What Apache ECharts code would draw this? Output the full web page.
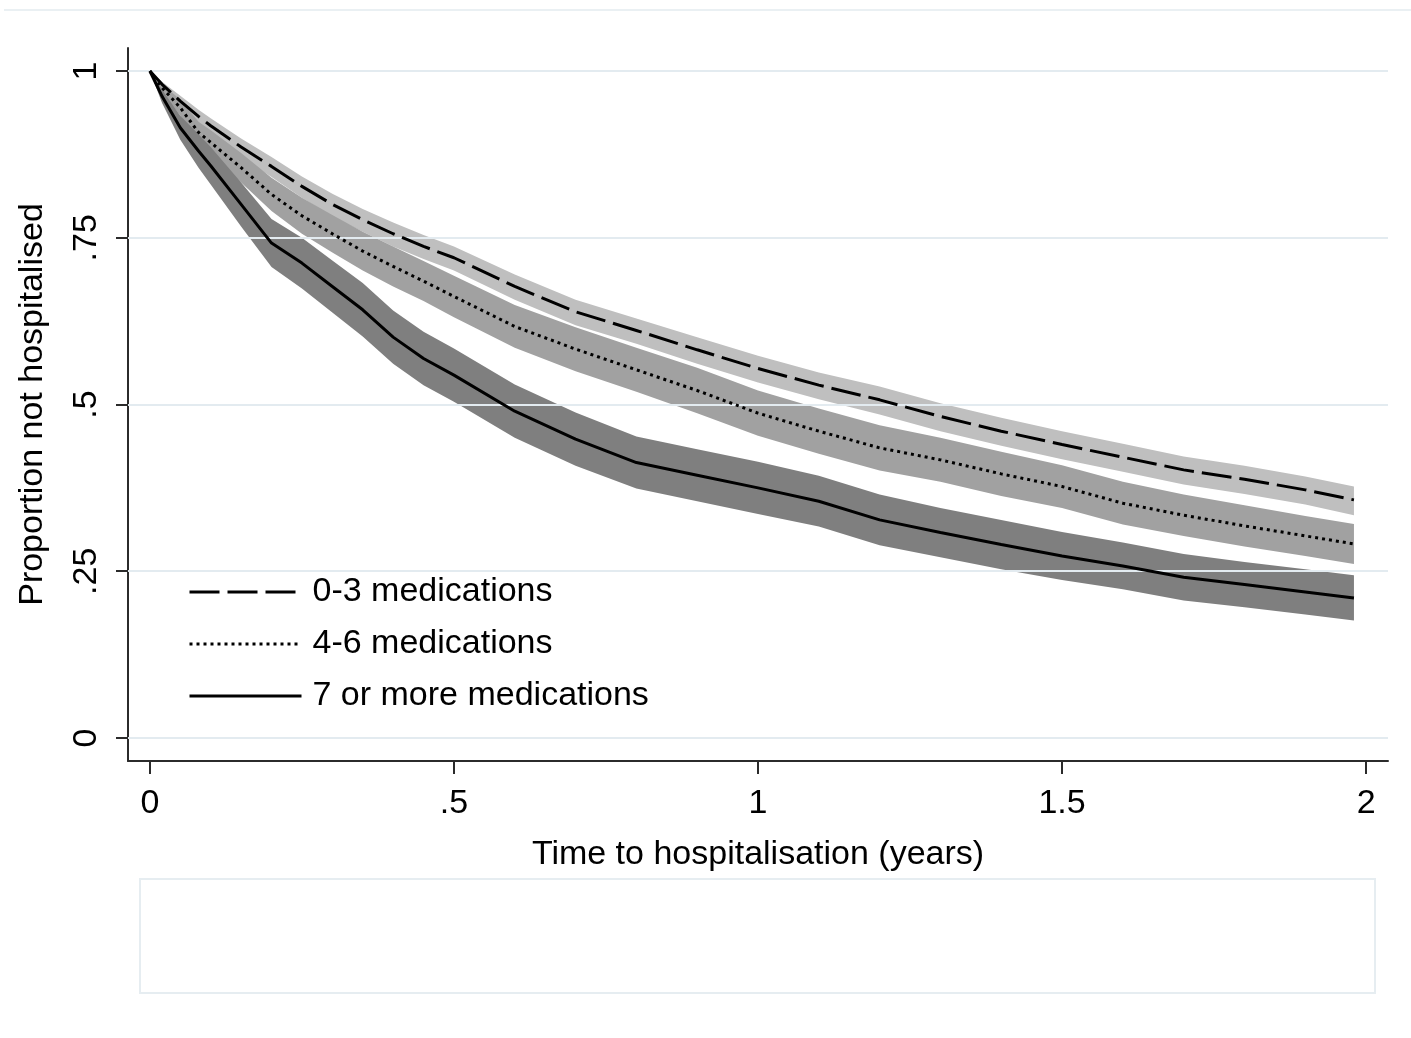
<!DOCTYPE html>
<html>
<head>
<meta charset="utf-8">
<script src="https://cdn.jsdelivr.net/npm/echarts@6/dist/echarts.min.js"></script>
<style>
html,body{margin:0;padding:0;background:#fff;}
#chart{width:1411px;height:1038px;}
</style>
</head>
<body>
<div id="chart"></div>
<script>
// ---- data ----
var seriesNames = ['0-3 medications', '4-6 medications', '7 or more medications'];
var t = [0, 0.02, 0.05, 0.08, 0.1, 0.15, 0.2, 0.25, 0.3, 0.35, 0.4, 0.45, 0.5, 0.6, 0.7, 0.8, 0.9, 1.0, 1.1, 1.2, 1.3, 1.4, 1.5, 1.6, 1.7, 1.8, 1.9, 1.98];

var s03  = [1.0, 0.980, 0.955, 0.932, 0.918, 0.886, 0.857, 0.827, 0.800, 0.777, 0.756, 0.737, 0.720, 0.677, 0.639, 0.611, 0.582, 0.554, 0.529, 0.507, 0.482, 0.460, 0.440, 0.421, 0.402, 0.388, 0.372, 0.357];
var hi03 = [1.0, 0.984, 0.963, 0.942, 0.929, 0.899, 0.871, 0.842, 0.816, 0.793, 0.773, 0.754, 0.737, 0.695, 0.657, 0.629, 0.601, 0.573, 0.548, 0.527, 0.502, 0.480, 0.460, 0.441, 0.422, 0.408, 0.392, 0.377];
var lo03 = [1.0, 0.975, 0.946, 0.920, 0.905, 0.871, 0.841, 0.810, 0.782, 0.759, 0.737, 0.718, 0.701, 0.657, 0.619, 0.591, 0.561, 0.533, 0.508, 0.485, 0.460, 0.438, 0.418, 0.399, 0.380, 0.366, 0.350, 0.334];

var s46  = [1.0, 0.975, 0.945, 0.908, 0.893, 0.855, 0.815, 0.783, 0.756, 0.730, 0.707, 0.685, 0.662, 0.617, 0.583, 0.552, 0.521, 0.487, 0.460, 0.435, 0.417, 0.396, 0.377, 0.352, 0.334, 0.318, 0.303, 0.291];
var hi46 = [1.0, 0.981, 0.957, 0.924, 0.911, 0.877, 0.840, 0.810, 0.784, 0.759, 0.737, 0.715, 0.693, 0.649, 0.616, 0.585, 0.555, 0.521, 0.494, 0.469, 0.450, 0.429, 0.409, 0.384, 0.365, 0.349, 0.333, 0.321];
var lo46 = [1.0, 0.969, 0.933, 0.892, 0.875, 0.833, 0.790, 0.756, 0.728, 0.701, 0.677, 0.655, 0.631, 0.585, 0.550, 0.519, 0.487, 0.453, 0.426, 0.401, 0.384, 0.363, 0.345, 0.320, 0.303, 0.287, 0.273, 0.261];

var s7   = [1.0, 0.962, 0.915, 0.880, 0.858, 0.800, 0.742, 0.712, 0.677, 0.642, 0.601, 0.569, 0.544, 0.490, 0.448, 0.413, 0.394, 0.375, 0.355, 0.327, 0.308, 0.290, 0.273, 0.258, 0.241, 0.230, 0.219, 0.210];
var hi7  = [1.0, 0.972, 0.933, 0.905, 0.886, 0.833, 0.778, 0.750, 0.716, 0.682, 0.641, 0.609, 0.584, 0.530, 0.488, 0.452, 0.433, 0.414, 0.393, 0.365, 0.345, 0.327, 0.309, 0.293, 0.276, 0.264, 0.253, 0.244];
var lo7  = [1.0, 0.952, 0.897, 0.855, 0.830, 0.767, 0.706, 0.674, 0.638, 0.602, 0.561, 0.529, 0.504, 0.450, 0.408, 0.374, 0.355, 0.336, 0.317, 0.289, 0.271, 0.253, 0.237, 0.223, 0.206, 0.196, 0.185, 0.176];

var xTickValues = [0, 0.5, 1, 1.5, 2];
var xTickLabels = ['0', '.5', '1', '1.5', '2'];
var yTickValues = [0, 0.25, 0.5, 0.75, 1];
var yTickLabels = ['0', '.25', '.5', '.75', '1'];

var xTitle = 'Time to hospitalisation (years)';
var yTitle = 'Proportion not hospitalised';

// ---- chart ----
var FONT = '"Liberation Sans", Arial, Helvetica, sans-serif';
var AXIS_COLOR = '#2b2b2b';
var GRID_COLOR = '#e3ebf0';

function pairs(xs, ys) { return xs.map(function (x, i) { return [x, ys[i]]; }); }
function lookup(vals, labels) {
  return function (v) {
    for (var i = 0; i < vals.length; i++) if (Math.abs(vals[i] - v) < 1e-9) return labels[i];
    return '';
  };
}
function band(name, lo, hi, color) {
  return {
    type: 'custom',
    name: name + ' CI',
    z: 2,
    silent: true,
    data: t.map(function (x, i) { return [x, hi[i], lo[i]]; }),
    encode: { x: 0, y: [1, 2] },
    renderItem: function (params, api) {
      if (params.dataIndex !== 0) return null;
      var pts = [];
      for (var i = 0; i < t.length; i++) pts.push(api.coord([t[i], hi[i]]));
      for (var j = t.length - 1; j >= 0; j--) pts.push(api.coord([t[j], lo[j]]));
      return { type: 'polygon', shape: { points: pts }, style: { fill: color, stroke: null } };
    }
  };
}
function line(name, ys, type) {
  return {
    type: 'line',
    name: name,
    z: 5,
    data: pairs(t, ys),
    showSymbol: false,
    symbol: 'none',
    smooth: false,
    silent: true,
    lineStyle: { color: '#000', width: 3, type: type, cap: 'butt' },
    itemStyle: { color: '#000' }
  };
}

var chart = echarts.init(document.getElementById('chart'), null, { renderer: 'canvas' });
chart.setOption({
  backgroundColor: '#fff',
  animation: false,
  grid: { left: 128, right: 23, top: 48, bottom: 277, containLabel: false },
  xAxis: {
    type: 'value', min: -0.036, max: 2.036,
    name: xTitle, nameLocation: 'middle', nameGap: 77,
    nameTextStyle: { fontFamily: FONT, fontSize: 34, color: '#000' },
    axisLine: { show: true, onZero: false, lineStyle: { color: AXIS_COLOR, width: 2 } },
    axisTick: { show: true, customValues: xTickValues, length: 13, inside: false, lineStyle: { color: AXIS_COLOR, width: 2 } },
    axisLabel: { customValues: xTickValues, formatter: lookup(xTickValues, xTickLabels), fontFamily: FONT, fontSize: 34, color: '#000', margin: 26 },
    splitLine: { show: false }
  },
  yAxis: {
    type: 'value', min: -0.0345, max: 1.0345,
    name: yTitle, nameLocation: 'middle', nameGap: 78,
    nameTextStyle: { fontFamily: FONT, fontSize: 34, color: '#000' },
    axisLine: { show: true, onZero: false, lineStyle: { color: AXIS_COLOR, width: 2 } },
    axisTick: { show: true, customValues: yTickValues, length: 12, inside: false, lineStyle: { color: AXIS_COLOR, width: 2 } },
    axisLabel: { customValues: yTickValues, formatter: lookup(yTickValues, yTickLabels), rotate: 90, fontFamily: FONT, fontSize: 34, color: '#000', margin: 24 },
    splitLine: { show: false }
  },
  legend: {
    show: true, orient: 'vertical', left: 188, top: 572, padding: 0,
    itemWidth: 112, itemHeight: 14, itemGap: 12,
    data: seriesNames,
    itemStyle: { color: 'rgba(0,0,0,0)', borderWidth: 0, opacity: 0 },
    lineStyle: { width: 3, color: '#000' },
    textStyle: { fontFamily: FONT, fontSize: 34, color: '#000', lineHeight: 40, padding: [0, 0, 0, 6] },
    selectedMode: false
  },
  graphic: [
    { type: 'rect', silent: true, shape: { x: 4, y: 9, width: 1407, height: 2 }, style: { fill: '#eaf0f3' } },
    { type: 'rect', silent: true, shape: { x: 140, y: 879, width: 1235, height: 114 }, style: { fill: 'none', stroke: '#e6edf1', lineWidth: 2 } }
  ],
  series: [
    {
      type: 'line', name: 'grid', data: [], z: 1, silent: true,
      markLine: {
        silent: true, symbol: 'none', animation: false,
        label: { show: false },
        lineStyle: { color: GRID_COLOR, width: 2, type: 'solid' },
        data: yTickValues.map(function (v) { return { yAxis: v }; })
      }
    },
    band(seriesNames[0], lo03, hi03, '#bfbfbf'),
    band(seriesNames[1], lo46, hi46, '#a1a1a1'),
    band(seriesNames[2], lo7, hi7, '#7f7f7f'),
    line(seriesNames[0], s03, [30, 8]),
    line(seriesNames[1], s46, [3, 4]),
    line(seriesNames[2], s7, 'solid')
  ]
});
</script>
</body>
</html>
